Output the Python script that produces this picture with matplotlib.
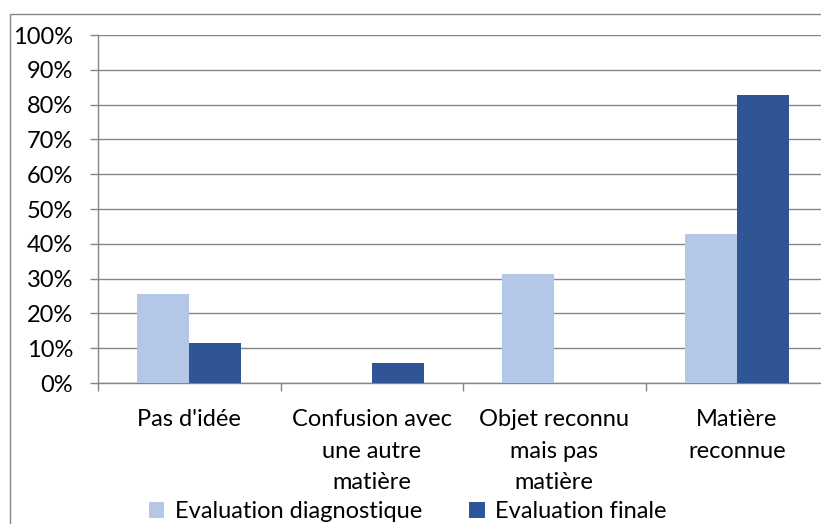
import matplotlib
matplotlib.use("Agg")
import matplotlib.pyplot as plt
from matplotlib.patches import Patch, Rectangle
import numpy as np

categories = ["Pas d'idée", "Confusion avec\nune autre\nmatière",
              "Objet reconnu\nmais pas\nmatière", "Matière\nreconnue"]
diagnostique = [0.257, 0.0, 0.314, 0.429]
finale = [0.114, 0.057, 0.0, 0.829]
series_names = ["Evaluation diagnostique", "Evaluation finale"]

light = "#B4C7E7"
dark = "#2F5597"
grid_col = "#868686"

plt.rcParams["font.family"] = ["Lato", "DejaVu Sans"]

fig = plt.figure(figsize=(8.21, 5.24), dpi=100)
W, H = 821, 524

# outer chart border (only left and top visible in the crop)
fig.patches.append(Rectangle((10 / W, -0.1), 1.2, 1 - 14 / H + 0.1,
                             transform=fig.transFigure, fill=False,
                             edgecolor=grid_col, linewidth=1.0))

ax = fig.add_axes([98 / W, (H - 383) / H, 730 / W, 348 / H])

x = np.arange(len(categories))
w = 1 / 3.5
ax.bar(x - w / 2, diagnostique, w, color=light, zorder=3)
ax.bar(x + w / 2, finale, w, color=dark, zorder=3)

ax.set_xlim(-0.5, len(categories) - 0.5)
ax.set_ylim(0, 1)
ax.set_yticks(np.arange(0, 1.01, 0.1))
ax.set_yticklabels([f"{int(round(v * 100))}%" for v in np.arange(0, 1.01, 0.1)])
ax.yaxis.grid(True, color=grid_col, linewidth=1.0, zorder=0)

ax.set_xticks(x)
ax.set_xticklabels(categories, linespacing=1.62)
ax.set_xticks(np.arange(-0.5, len(categories), 1), minor=True)
ax.tick_params(axis="x", which="major", length=0, pad=19, labelsize=17)
ax.tick_params(axis="x", which="minor", length=6, color=grid_col, width=1)
ax.tick_params(axis="y", length=6, color=grid_col, width=1, pad=12, labelsize=17)

for s in ["top", "right"]:
    ax.spines[s].set_visible(False)
for s in ["left", "bottom"]:
    ax.spines[s].set_color(grid_col)
    ax.spines[s].set_linewidth(1.0)

handles = [Patch(facecolor=light), Patch(facecolor=dark)]
fig.legend(handles, series_names, loc="center", ncol=2, frameon=False,
           bbox_to_anchor=(408 / W, 1 - 512 / H), fontsize=17,
           handlelength=0.65, handleheight=0.65, handletextpad=0.45,
           columnspacing=2.0, borderpad=0)

fig.savefig("out.png", dpi=100)
